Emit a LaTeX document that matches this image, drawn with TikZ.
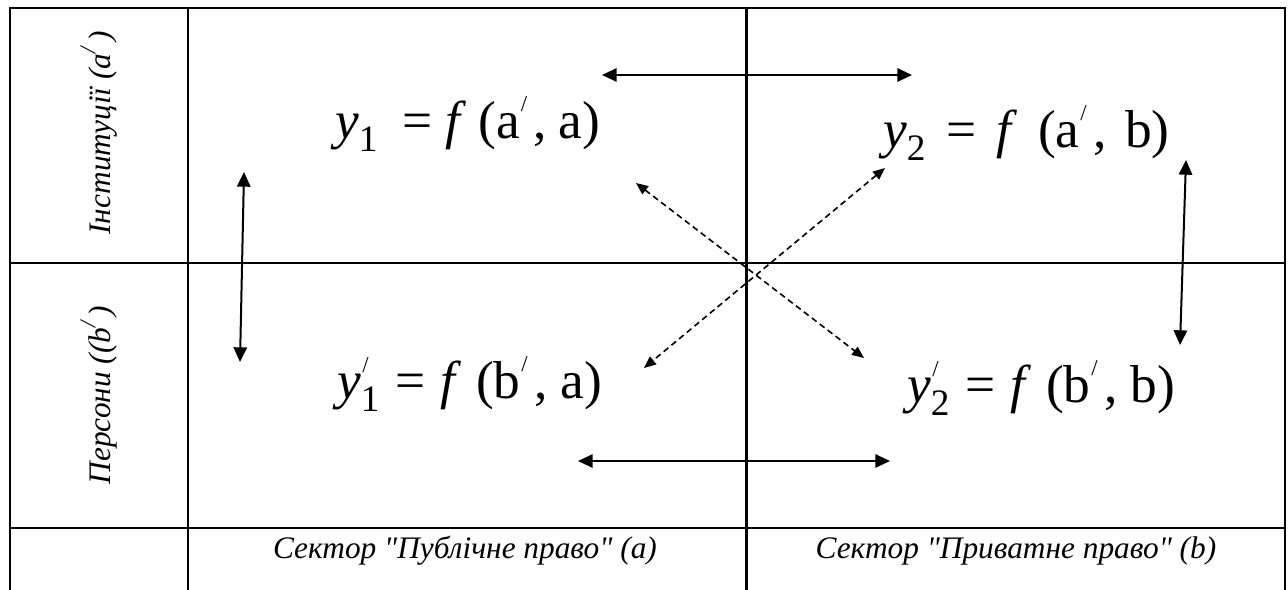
\documentclass[tikz,border=0pt]{standalone}
\usepackage{fontspec}
\setmainfont{Liberation Serif}[Ligatures=TeXOff]
\usetikzlibrary{arrows.meta}
\newcommand{\prm}{\raisebox{0.5em}{\fontsize{17}{17}\selectfont/}}
\newcommand{\fprm}{\raisebox{0.5em}{\fontsize{17}{17}\selectfont\kern0.04em/}\kern0.12em}
\newcommand{\yprm}[1]{\textit{y}\rlap{\raisebox{0.48em}{\fontsize{17}{17}\selectfont\kern0.06em/}}\textsubscript{#1}}
\newcommand{\ysb}[1]{\textit{y}\textsubscript{#1}}
\newcommand{\gap}[1]{\hspace{#1em}}
\begin{document}
\begin{tikzpicture}[x=0.75pt,y=-0.75pt,
  grid/.style={line width=1.6pt},
  fml/.style={anchor=base west,inner sep=0pt,font=\fontsize{40}{46}\selectfont},
  lbl/.style={font=\fontsize{23.5}{28}\selectfont\itshape,inner sep=0pt},
  harr/.style={line width=1.5pt,{Triangle[length=11pt,width=10pt]}-{Triangle[length=11pt,width=10pt]}},
  darr/.style={line width=1.2pt,dash pattern=on 4.5pt off 3pt,{Triangle[length=9pt,width=7.5pt]}-{Triangle[length=9pt,width=7.5pt]}}]
\useasboundingbox (0,0) rectangle (1288,589);
% table grid
\draw[grid] (10,595) -- (10,8) -- (1285,8) -- (1285,595);
\draw[grid] (188,8) -- (188,595);
\draw[grid] (746.5,8) -- (746.5,595);
\draw[grid] (10,263) -- (1285,263);
\draw[grid] (10,528) -- (1285,528);
% row labels
\node[lbl,rotate=90] (rowA) at (99,133) {Інституції (a\prm\,)};
\node[lbl,rotate=90] (rowB) at (99,395) {Персони ((b\prm\,)};
% column labels
\node[lbl] (colA) at (465,551) {Сектор "Публічне право" (a)};
\node[lbl] (colB) at (1016,551) {Сектор "Приватне право" (b)};
% formulas
\node[fml] (y1) at (335,138) {\ysb{1}\gap{0.45}=\gap{0.25}\textit{f}\gap{0.22}(a\fprm,\gap{0.22}a)};
\node[fml] (y2) at (883,147) {\ysb{2}\gap{0.38}=\gap{0.38}\textit{f}\gap{0.38}(a\fprm,\gap{0.35}b)};
\node[fml] (y1p) at (337,398) {\yprm{1}\gap{0.28}=\gap{0.28}\textit{f}\gap{0.28}(b\fprm,\gap{0.25}a)};
\node[fml] (y2p) at (907,402) {\yprm{2}\gap{0.28}=\gap{0.28}\textit{f}\gap{0.28}(b\fprm,\gap{0.25}b)};
% arrow end points
\coordinate (tl) at (602,75);   \coordinate (tr) at (912,75);
\coordinate (bl) at (578,461);  \coordinate (br) at (890,461);
\coordinate (lt) at (244,172);  \coordinate (lb) at (240,362);
\coordinate (rt) at (1186,160); \coordinate (rb) at (1180,345);
\coordinate (d1a) at (636,183); \coordinate (d1b) at (864,358);
\coordinate (d2a) at (885,168); \coordinate (d2b) at (644,368);
\draw[harr] (tl) -- (tr);
\draw[harr] (bl) -- (br);
\draw[harr] (lt) -- (lb);
\draw[harr] (rt) -- (rb);
\draw[darr] (d1a) -- (d1b);
\draw[darr] (d2a) -- (d2b);
\end{tikzpicture}
\end{document}
